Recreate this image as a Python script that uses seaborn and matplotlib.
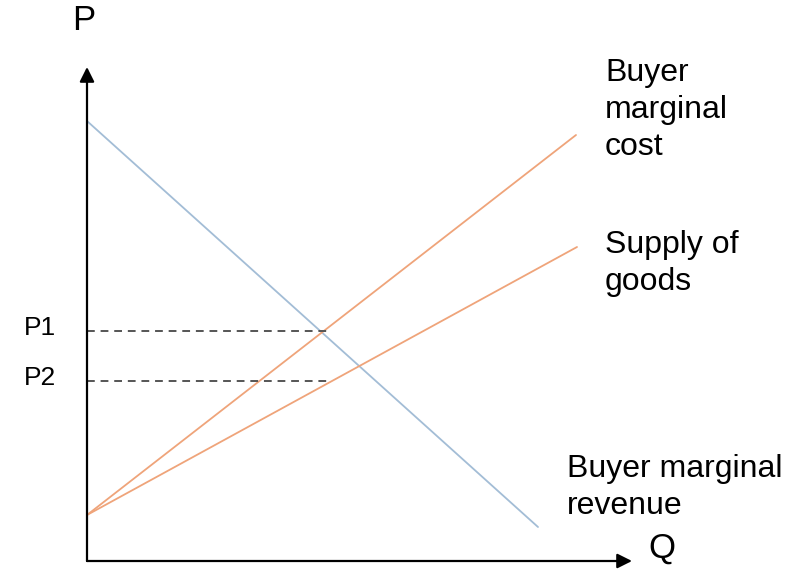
import matplotlib
matplotlib.use("Agg")
import matplotlib.pyplot as plt
import seaborn as sns
import pandas as pd

# curves (quantity, price) - end points
demand_q = [0.0, 45.1]
demand_p = [44.0, 3.4]
mc_q = [0.0, 48.9]
mc_p = [4.6, 42.6]
supply_q = [0.0, 49.0]
supply_p = [4.6, 31.4]

# price levels and where the dashed guides stop
price_labels = ["P1", "P2"]
price_levels = [23.0, 18.0]
price_q_end = [24.2, 24.2]

# curve labels (text, left x, baseline of first line)
curve_labels = ["Buyer\nmarginal\ncost", "Supply of\ngoods", "Buyer marginal\nrevenue"]
label_x = [51.8, 51.8, 48.0]
label_y = [48.0, 30.8, 8.4]

sns.set_style("white")
plt.rcParams["font.family"] = ["Liberation Sans", "DejaVu Sans"]
plt.rcParams["text.color"] = "black"

fig = plt.figure(figsize=(7.87, 5.70), dpi=100)
ax = fig.add_axes([0, 0, 1, 1])

curves = pd.concat([
    pd.DataFrame({"q": demand_q, "p": demand_p, "curve": "Buyer marginal revenue"}),
    pd.DataFrame({"q": mc_q, "p": mc_p, "curve": "Buyer marginal cost"}),
    pd.DataFrame({"q": supply_q, "p": supply_p, "curve": "Supply of goods"}),
])
palette = {"Buyer marginal revenue": "#a3bdd6",
           "Buyer marginal cost": "#efa47a",
           "Supply of goods": "#efa47a"}
sns.lineplot(data=curves, x="q", y="p", hue="curve", palette=palette,
             linewidth=1.3, legend=False, ax=ax, sort=False)

# dashed guides + labels
for lab, lvl, qe in zip(price_labels, price_levels, price_q_end):
    ax.plot([0, qe], [lvl, lvl], ls=(0, (4, 3)), color="#555555", lw=1.4)
    ax.text(-6.3, lvl + 0.3, lab, fontsize=19, ha="left", va="center")

# axes with arrow heads
ax.annotate("", xy=(0, 49.4), xytext=(0, 0),
            arrowprops=dict(arrowstyle="-|>", color="black", lw=1.6,
                            mutation_scale=22, shrinkA=0, shrinkB=0))
ax.annotate("", xy=(54.5, 0), xytext=(0, 0),
            arrowprops=dict(arrowstyle="-|>", color="black", lw=1.6,
                            mutation_scale=22, shrinkA=0, shrinkB=0))

ax.text(-0.3, 54.0, "P", fontsize=25, ha="center", va="center")
ax.text(57.5, 1.3, "Q", fontsize=25, ha="center", va="center")

# one text per line so the line gap matches
for lab, x, y in zip(curve_labels, label_x, label_y):
    for i, line in enumerate(lab.split("\n")):
        ax.text(x, y - i * 3.7, line, fontsize=23, ha="left", va="baseline")

ax.set_xlim(-8.7, 70.0)
ax.set_ylim(-0.9, 56.1)
ax.set_axis_off()

fig.savefig("out.png", dpi=100)
